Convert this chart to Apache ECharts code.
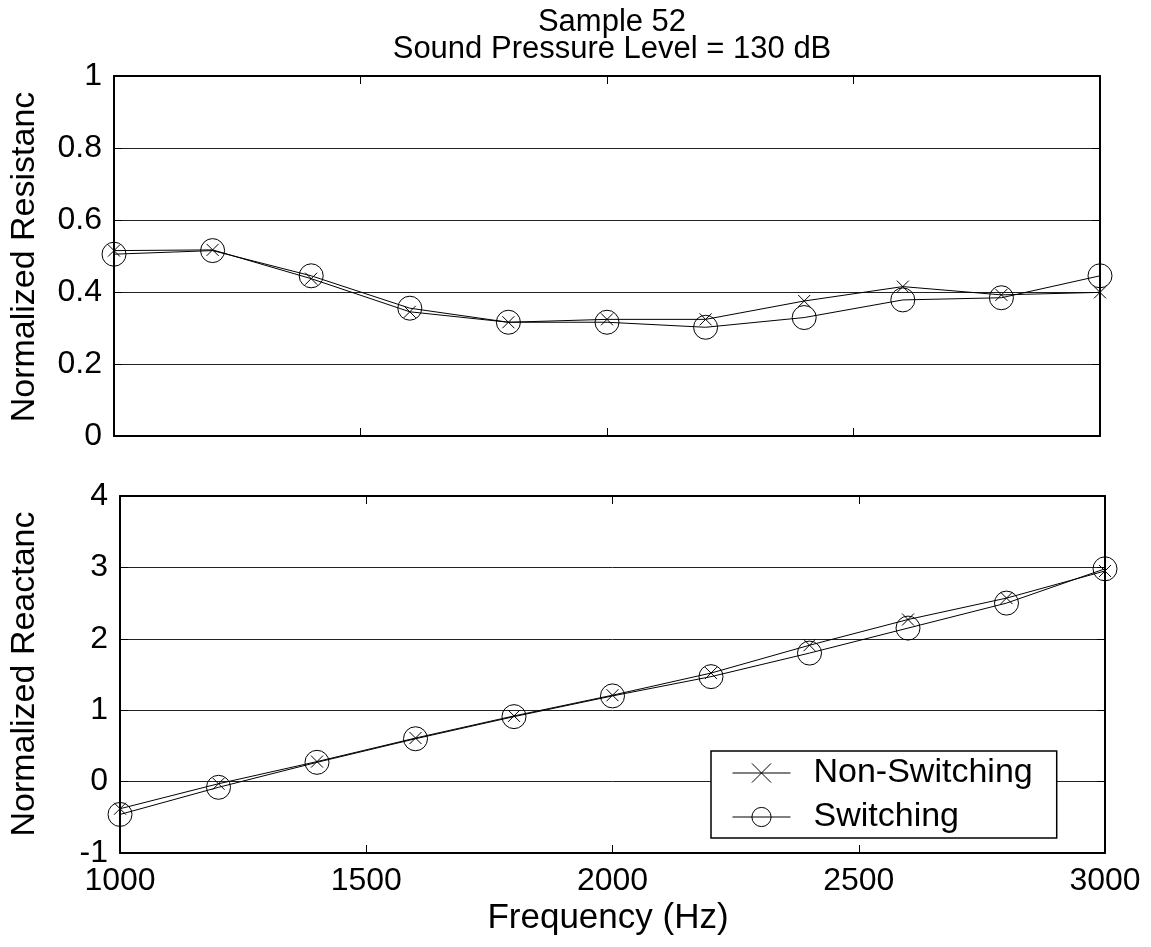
<!DOCTYPE html>
<html>
<head>
<meta charset="utf-8">
<script src="https://cdn.jsdelivr.net/npm/echarts@6/dist/echarts.min.js"></script>
<style>html,body{margin:0;padding:0;background:#fff}#c{width:1151px;height:947px}</style>
</head>
<body>
<div id="c"></div>
<script>
const freq = [1000, 1200, 1400, 1600, 1800, 2000, 2200, 2400, 2600, 2800, 3000];
const resNonSwitching = [0.515, 0.517, 0.437, 0.345, 0.316, 0.324, 0.324, 0.375, 0.415, 0.392, 0.399];
const resSwitching    = [0.505, 0.515, 0.445, 0.355, 0.316, 0.316, 0.302, 0.329, 0.378, 0.384, 0.445];
const reaNonSwitching = [-0.38, -0.03, 0.28, 0.61, 0.92, 1.21, 1.52, 1.91, 2.27, 2.57, 2.95];
const reaSwitching    = [-0.46, -0.08, 0.27, 0.60, 0.91, 1.20, 1.47, 1.80, 2.15, 2.50, 2.98];
const titleLines = ['Sample 52', 'Sound Pressure Level = 130 dB'];
const seriesNames = ['Non-Switching', 'Switching'];
const yNames = ['Normalized Resistanc', 'Normalized Reactanc'];
const xName = 'Frequency (Hz)';

const FONT = '"Liberation Sans", Arial, sans-serif';
const pair = (xs, ys) => xs.map((x, i) => [x, ys[i]]);
const crossPath = 'path://M0,0L12,12M12,0L0,12';

const axisLine = {show: true, onZero: false, lineStyle: {color: '#000', width: 2}};
const tickIn = {show: true, inside: true, length: 8, lineStyle: {color: '#000', width: 1}};
const labelStyle = {color: '#000', fontSize: 32, fontFamily: FONT};

function xAx(grid, pos, labels) {
  return {type: 'value', gridIndex: grid, position: pos, min: 1000, max: 3000, interval: 500,
    axisLine, axisTick: tickIn, splitLine: {show: false},
    axisLabel: labels ? Object.assign({margin: 12, formatter: v => String(v)}, labelStyle) : {show: false}};
}
function yAx(grid, pos, min, max, interval, labels, fmt) {
  return {type: 'value', gridIndex: grid, position: pos, min, max, interval,
    axisLine, axisTick: tickIn,
    splitLine: {show: labels, lineStyle: {color: '#222', width: 1}},
    axisLabel: labels ? Object.assign({margin: 12, formatter: fmt}, labelStyle) : {show: false}};
}

function mk(name, data, xi, yi, symbol, size) {
  return {name, type: 'line', xAxisIndex: xi, yAxisIndex: yi, data, clip: false,
    symbol, symbolSize: size, showSymbol: true,
    lineStyle: {color: '#000', width: 1},
    itemStyle: {color: 'rgba(0,0,0,0)', borderColor: '#000', borderWidth: 1},
    emphasis: {disabled: true}, animation: false};
}

const nameStyle = {fontSize: 34, fontFamily: FONT, fill: '#000', textAlign: 'center', textVerticalAlign: 'middle'};

const chart = echarts.init(document.getElementById('c'));
chart.setOption({
  animation: false,
  backgroundColor: '#fff',
  title: {
    text: titleLines.join('\n'), left: 607, top: 4, textAlign: 'center',
    textStyle: {fontSize: 31, fontWeight: 'normal', color: '#000', fontFamily: FONT, lineHeight: 27}
  },
  grid: [
    {left: 114, top: 76, width: 986, height: 360},
    {left: 120, top: 496, width: 985, height: 357}
  ],
  xAxis: [xAx(0, 'bottom', false), xAx(0, 'top', false), xAx(1, 'bottom', true), xAx(1, 'top', false)],
  yAxis: [
    yAx(0, 'left', 0, 1, 0.2, true, v => (Math.round(v * 10) / 10).toString()),
    yAx(0, 'right', 0, 1, 0.2, false),
    yAx(1, 'left', -1, 4, 1, true, v => String(v)),
    yAx(1, 'right', -1, 4, 1, false)
  ],
  legend: {
    orient: 'vertical', left: 711, top: 751, data: seriesNames,
    itemWidth: 58, itemHeight: 24, itemGap: 10,
    padding: [5, 24, 4, 21],
    backgroundColor: '#fff', borderColor: '#000', borderWidth: 1.5, borderRadius: 0,
    textStyle: {fontSize: 34, color: '#000', fontFamily: FONT, padding: [0, 0, 0, 18]},
    itemStyle: {color: 'rgba(0,0,0,0)', borderColor: '#000', borderWidth: 1},
    lineStyle: {color: '#000', width: 1},
    selectedMode: false
  },
  graphic: [
    {type: 'text', rotation: Math.PI / 2, x: 25, y: 257, style: Object.assign({text: yNames[0]}, nameStyle)},
    {type: 'text', rotation: Math.PI / 2, x: 25, y: 674, style: Object.assign({text: yNames[1]}, nameStyle)},
    {type: 'text', x: 608, y: 918, style: Object.assign({text: xName}, nameStyle, {fontSize: 35})}
  ],
  series: [
    mk(seriesNames[0], pair(freq, resNonSwitching), 0, 0, crossPath, 12),
    mk(seriesNames[1], pair(freq, resSwitching), 0, 0, 'circle', 24),
    mk(seriesNames[0], pair(freq, reaNonSwitching), 2, 2, crossPath, 12),
    mk(seriesNames[1], pair(freq, reaSwitching), 2, 2, 'circle', 24)
  ]
});
</script>
</body>
</html>
